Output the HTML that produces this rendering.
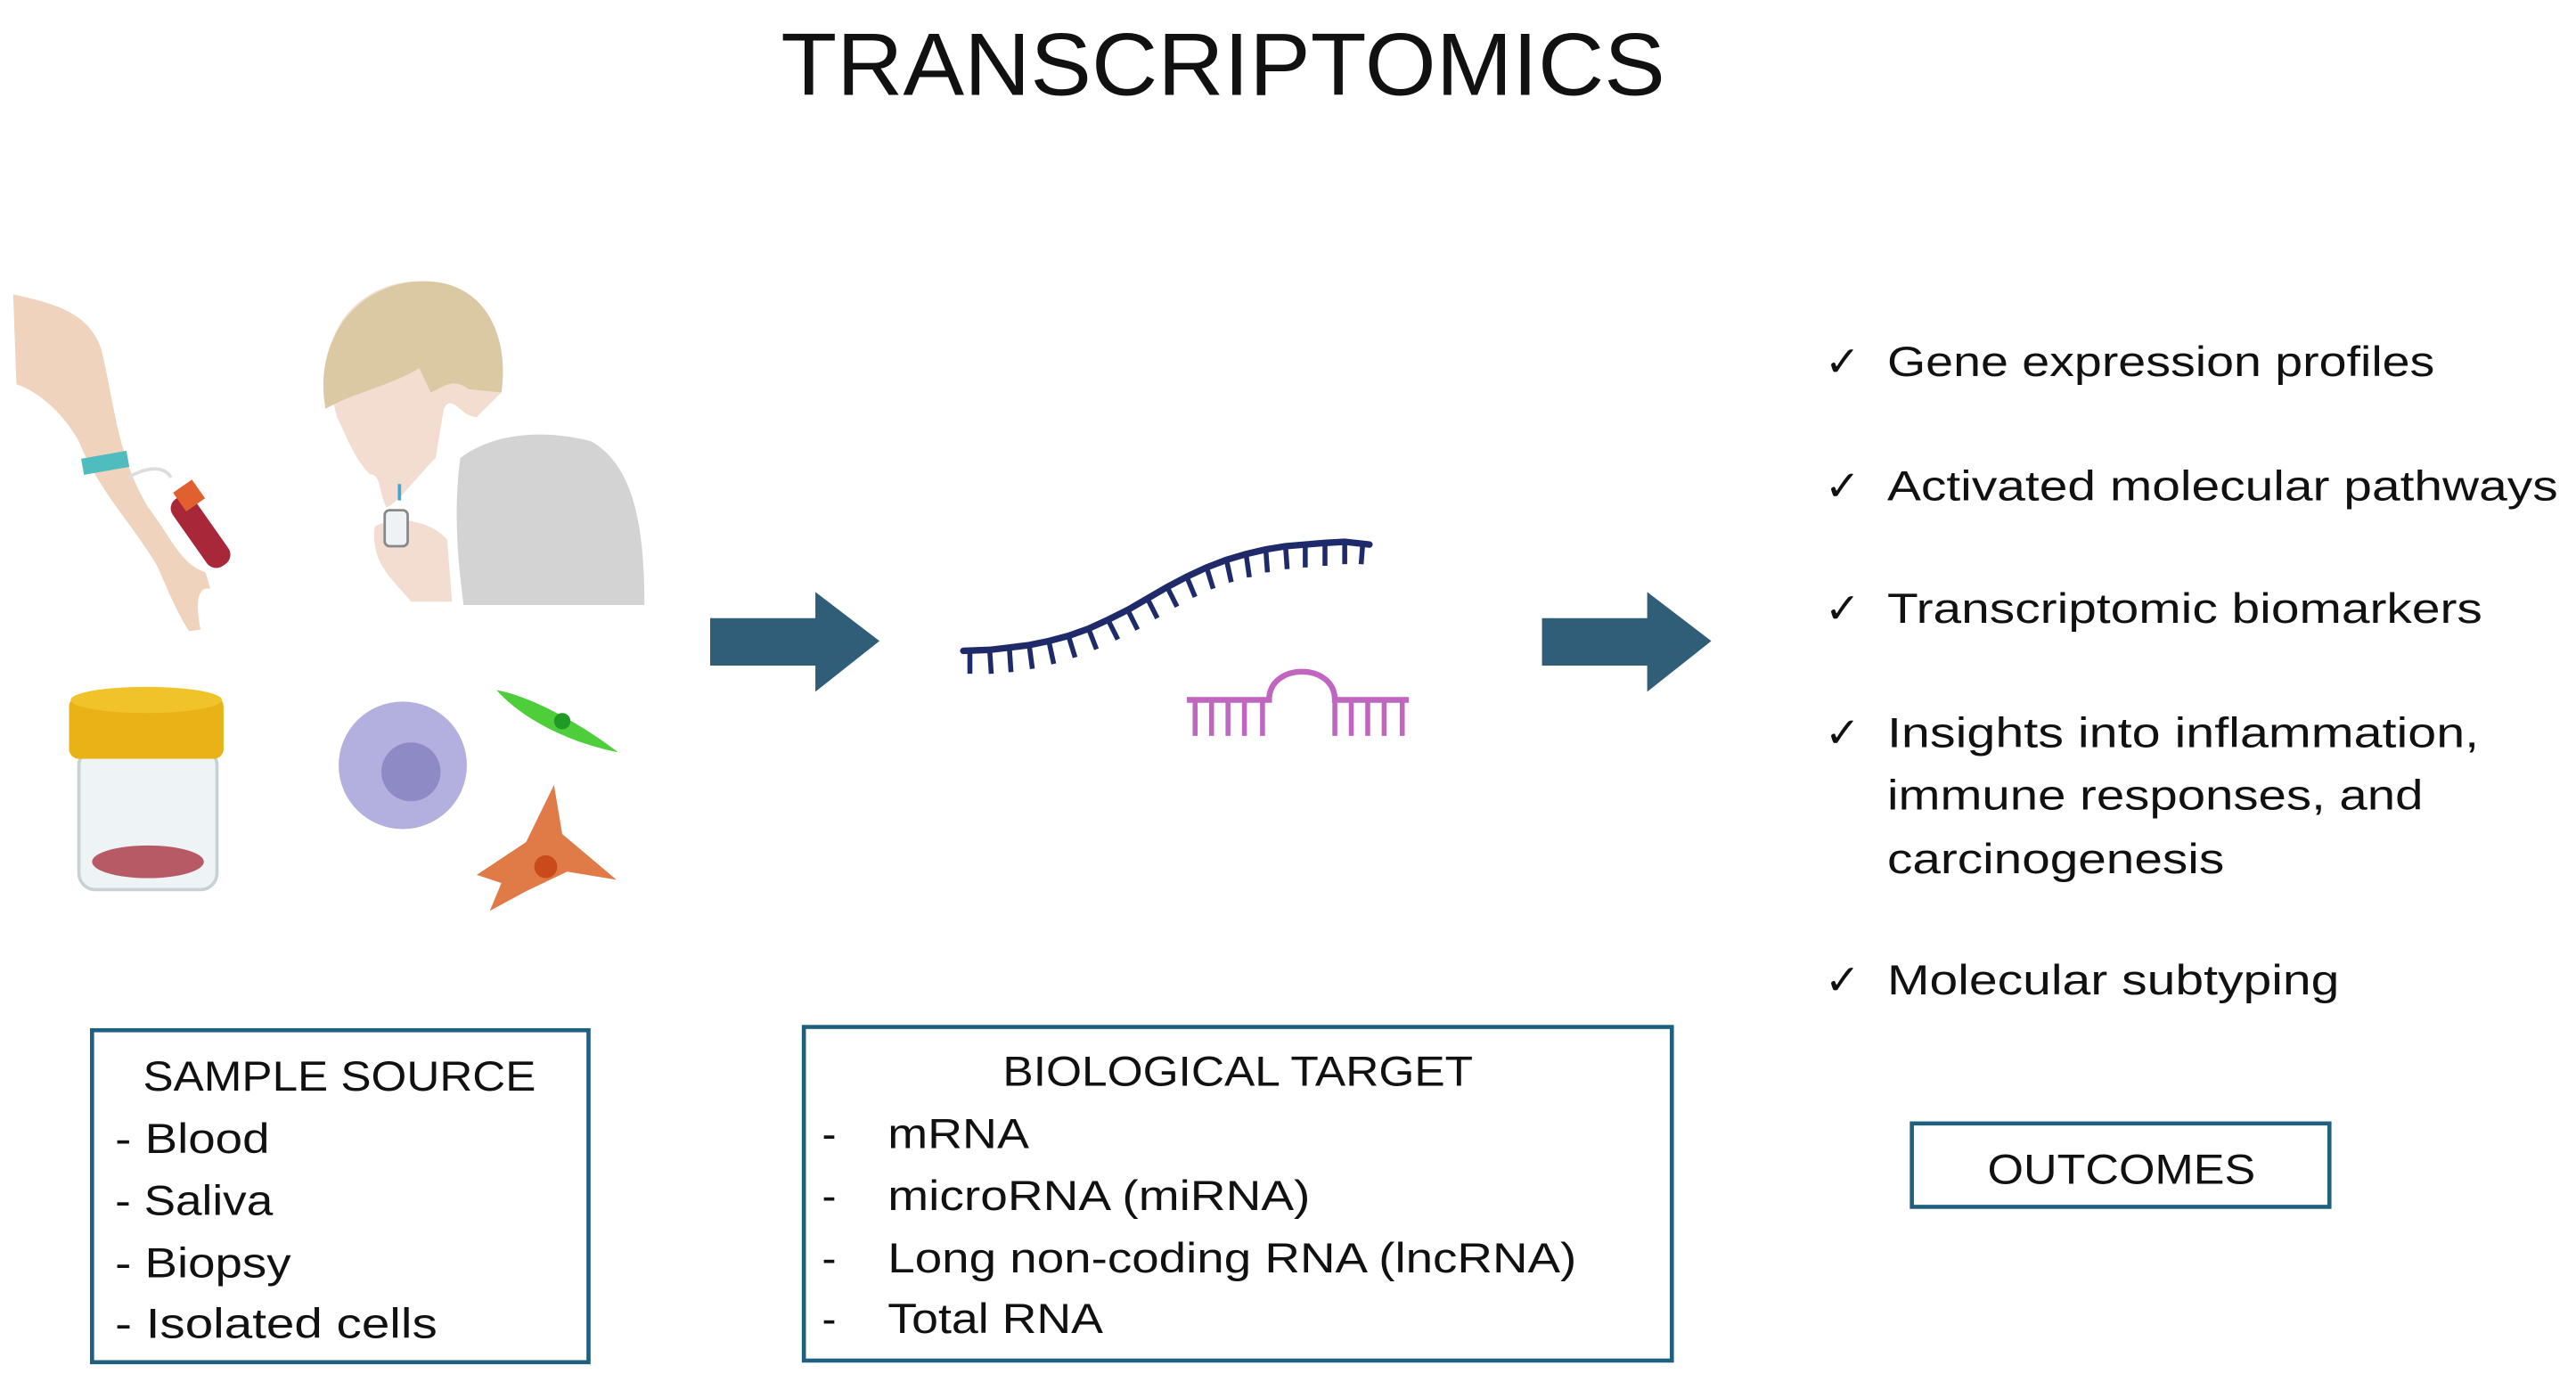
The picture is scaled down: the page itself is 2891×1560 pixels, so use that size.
<!DOCTYPE html>
<html><head><meta charset="utf-8"><style>
html,body{margin:0;padding:0;background:#fff;width:2891px;height:1560px;overflow:hidden}
svg{display:block}
text{font-family:"Liberation Sans",sans-serif;fill:#111}
</style></head><body>
<svg width="2891" height="1560" viewBox="0 0 1567 850" preserveAspectRatio="none" xmlns="http://www.w3.org/2000/svg">
<text x="744" y="58" font-size="54" text-anchor="middle" textLength="538" lengthAdjust="spacingAndGlyphs">TRANSCRIPTOMICS</text>

<!-- arm -->
<path d="M8,180 C30,185 55,190 62,215 C70,250 72,280 90,310 C105,330 110,345 125,350 L128,360 C118,358 120,375 122,385 L115,386 C105,370 100,355 95,345 C80,320 60,300 48,270 C40,255 25,240 10,235 Z" fill="#f0d3bd"/>
<rect x="50" y="278" width="28" height="10" fill="#4fbcc0" transform="rotate(-10 64 283)"/>
<path d="M78,292 C90,285 100,285 104,292" stroke="#ddd" stroke-width="2" fill="none"/>
<rect x="114" y="300" width="16" height="50" rx="7" fill="#a8283a" transform="rotate(-35 122 325)"/>
<rect x="108" y="296" width="14" height="14" fill="#e0612f" transform="rotate(-35 115 303)"/>
<!-- head -->
<path d="M200,235 C195,195 225,172 255,172 C290,172 310,200 305,240 L290,255 C280,255 275,240 270,250 L265,280 C255,290 240,310 235,310 C230,300 232,290 225,290 C215,280 210,265 205,255 Z" fill="#f3ddd0"/>
<path d="M198,250 C190,205 220,172 258,172 C295,172 310,205 305,240 L285,238 C275,230 268,238 262,240 L255,225 C240,235 215,240 198,250 Z" fill="#dbc9a3"/>
<path d="M280,280 C300,265 330,262 360,270 C385,285 392,320 392,370 L282,370 C278,340 276,310 280,280 Z" fill="#d3d3d3"/>
<path d="M228,322 C240,315 262,318 272,330 L275,368 L250,368 C240,355 225,345 228,322 Z" fill="#f3ddd0"/>
<rect x="234" y="312" width="14" height="22" rx="3" fill="#eef2f4" stroke="#888" stroke-width="1.5"/>
<line x1="243" y1="296" x2="243" y2="306" stroke="#3aa9d6" stroke-width="2"/>
<!-- jar -->
<rect x="48" y="458" width="84" height="86" rx="10" fill="#eef3f5" stroke="#c8d2d6" stroke-width="2"/>
<ellipse cx="90" cy="527" rx="34" ry="10" fill="#b85a66"/>
<rect x="42" y="426" width="94" height="38" rx="6" fill="#e9b317"/>
<ellipse cx="89" cy="428" rx="46" ry="8" fill="#f1c32a"/>
<!-- cells -->
<circle cx="245" cy="468" r="39" fill="#b3b0e0"/>
<circle cx="250" cy="472" r="18" fill="#8e8ac6"/>
<path d="M302,422 C320,425 350,440 376,460 C350,455 320,442 302,422 Z" fill="#4fce3c"/>
<circle cx="342" cy="441" r="5" fill="#1f9a25"/>
<path d="M337,480 L342,510 L375,538 L345,533 L320,545 L298,557 L305,540 L290,535 L320,515 Z" fill="#e07b48"/>
<circle cx="332" cy="530" r="7" fill="#c94b1b"/>

<!-- arrows -->
<polygon points="432,378 496,378 496,362 535,392 496,423 496,407 432,407" fill="#305e78"/>
<polygon points="938,378 1002,378 1002,362 1041,392 1002,423 1002,407 938,407" fill="#305e78"/>

<!-- RNA -->
<polyline fill="none" stroke="#1e2a6a" stroke-width="4" stroke-linecap="round" points="586,398 602,397.4 614,396 626,394.5 638,392 650,388.8 662,384.5 674,379 686,373 698,366 710,359 722,352.6 734,347 746,342.4 758,338.8 770,336 782,334 794,333 806,332 818,331.3 833,333"/>
<g stroke="#1e2a6a" stroke-width="3">
<line x1="590" y1="398" x2="590" y2="412"/><line x1="602" y1="397" x2="603" y2="412"/><line x1="614" y1="396" x2="615" y2="411"/><line x1="626" y1="394" x2="628" y2="409"/><line x1="638" y1="392" x2="641" y2="406"/><line x1="650" y1="389" x2="654" y2="402"/><line x1="662" y1="384" x2="667" y2="397"/><line x1="674" y1="379" x2="680" y2="391"/><line x1="686" y1="373" x2="692" y2="385"/><line x1="698" y1="366" x2="704" y2="378"/><line x1="710" y1="359" x2="716" y2="371"/><line x1="722" y1="353" x2="727" y2="365"/><line x1="734" y1="347" x2="738" y2="360"/><line x1="746" y1="342" x2="749" y2="356"/><line x1="758" y1="339" x2="760" y2="353"/><line x1="770" y1="336" x2="771" y2="350"/><line x1="782" y1="334" x2="783" y2="348"/><line x1="794" y1="333" x2="794" y2="347"/><line x1="806" y1="332" x2="806" y2="346"/><line x1="818" y1="331" x2="818" y2="345"/><line x1="829" y1="332" x2="828" y2="345"/>
</g>
<path d="M722,428 L772,428 C772,405 812,405 812,428 L857,428" fill="none" stroke="#c066c0" stroke-width="3.5"/>
<g stroke="#c066c0" stroke-width="3">
<line x1="727" y1="428" x2="727" y2="450"/><line x1="737" y1="428" x2="737" y2="450"/><line x1="747" y1="428" x2="747" y2="450"/><line x1="757" y1="428" x2="757" y2="450"/><line x1="768" y1="428" x2="768" y2="450"/>
<line x1="812" y1="428" x2="812" y2="450"/><line x1="822" y1="428" x2="822" y2="450"/><line x1="832" y1="428" x2="832" y2="450"/><line x1="842" y1="428" x2="842" y2="450"/><line x1="853" y1="428" x2="853" y2="450"/>
</g>

<!-- checklist -->
<g font-size="26">
<text x="1110" y="230">✓</text><text x="1148" y="230" textLength="333" lengthAdjust="spacingAndGlyphs">Gene expression profiles</text>
<text x="1110" y="306">✓</text><text x="1148" y="306" textLength="408" lengthAdjust="spacingAndGlyphs">Activated molecular pathways</text>
<text x="1110" y="381">✓</text><text x="1148" y="381" textLength="362" lengthAdjust="spacingAndGlyphs">Transcriptomic biomarkers</text>
<text x="1110" y="457">✓</text><text x="1148" y="457" textLength="360" lengthAdjust="spacingAndGlyphs">Insights into inflammation,</text>
<text x="1148" y="495" textLength="326" lengthAdjust="spacingAndGlyphs">immune responses, and</text>
<text x="1148" y="534" textLength="205" lengthAdjust="spacingAndGlyphs">carcinogenesis</text>
<text x="1110" y="608">✓</text><text x="1148" y="608" textLength="275" lengthAdjust="spacingAndGlyphs">Molecular subtyping</text>
</g>

<!-- boxes -->
<g fill="none" stroke="#1f5f80" stroke-width="2.5">
<rect x="56" y="630" width="302" height="203"/>
<rect x="489" y="628" width="528" height="204"/>
<rect x="1163" y="687" width="254" height="51"/>
</g>
<g font-size="26">
<text x="87" y="667" textLength="239" lengthAdjust="spacingAndGlyphs">SAMPLE SOURCE</text>
<text x="70" y="705" textLength="94" lengthAdjust="spacingAndGlyphs">- Blood</text>
<text x="70" y="743" textLength="96" lengthAdjust="spacingAndGlyphs">- Saliva</text>
<text x="70" y="781" textLength="107" lengthAdjust="spacingAndGlyphs">- Biopsy</text>
<text x="70" y="818" textLength="196" lengthAdjust="spacingAndGlyphs">- Isolated cells</text>
<text x="610" y="664" textLength="286" lengthAdjust="spacingAndGlyphs">BIOLOGICAL TARGET</text>
<text x="500" y="702">-</text><text x="540" y="702" textLength="86" lengthAdjust="spacingAndGlyphs">mRNA</text>
<text x="500" y="740">-</text><text x="540" y="740" textLength="257" lengthAdjust="spacingAndGlyphs">microRNA (miRNA)</text>
<text x="500" y="778">-</text><text x="540" y="778" textLength="419" lengthAdjust="spacingAndGlyphs">Long non-coding RNA (lncRNA)</text>
<text x="500" y="815">-</text><text x="540" y="815" textLength="131" lengthAdjust="spacingAndGlyphs">Total RNA</text>
<text x="1209" y="724" textLength="163" lengthAdjust="spacingAndGlyphs">OUTCOMES</text>
</g>
</svg>
</body></html>
